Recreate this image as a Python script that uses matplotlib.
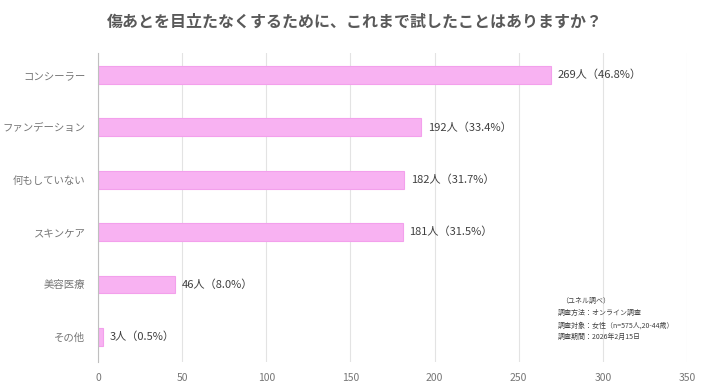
import matplotlib.pyplot as plt

plt.rcParams['font.family'] = ['Noto Sans CJK JP', 'DejaVu Sans']

categories = ['コンシーラー', 'ファンデーション', '何もしていない', 'スキンケア', '美容医療', 'その他']
counts = [269, 192, 182, 181, 46, 3]
percents = [46.8, 33.4, 31.7, 31.5, 8.0, 0.5]
xticks = [0, 50, 100, 150, 200, 250, 300, 350]

title = '傷あとを目立たなくするために、これまで試したことはありますか？'
notes = ['（ユネル調べ）', '調査方法：オンライン調査', '調査対象：女性（n=575人,20-44歳）', '調査期間：2026年2月15日']

fig = plt.figure(figsize=(7.09, 3.89), dpi=100)
ax = fig.add_axes([0.1382, 0.0694, 0.8308, 0.7944])

y = list(range(len(categories)))
ax.barh(y, counts, height=0.34, color='#F8B2F2', edgecolor='#F3A0EC', linewidth=0.8, zorder=3)

for yi, c, p in zip(y, counts, percents):
    ax.text(c + 4, yi, f'{c}人（{p}%）', va='center', ha='left', fontsize=8, color='#404040')

ax.set_xlim(0, 350)
ax.set_ylim(5.48, -0.42)
ax.set_xticks(xticks)
ax.set_yticks(y)
ax.set_yticklabels(categories)
ax.tick_params(axis='both', length=0, colors='#767676', labelsize=7.5)
ax.tick_params(axis='x', pad=8)
ax.tick_params(axis='y', pad=9)
ax.grid(axis='x', color='#E3E3E3', linewidth=0.8, zorder=0)
for s in ['top', 'right', 'bottom']:
    ax.spines[s].set_visible(False)
ax.spines['left'].set_color('#BFBFBF')
ax.spines['left'].set_zorder(4)

fig.text(0.5, 0.945, title, ha='center', va='center', fontsize=11.5, fontweight='bold', color='#595959')

for i, n in enumerate(notes):
    fig.text(0.786 if i else 0.792, 0.226 - i * 0.031, n, ha='left', va='center', fontsize=5, color='#404040')

fig.savefig('out.png', dpi=100)
